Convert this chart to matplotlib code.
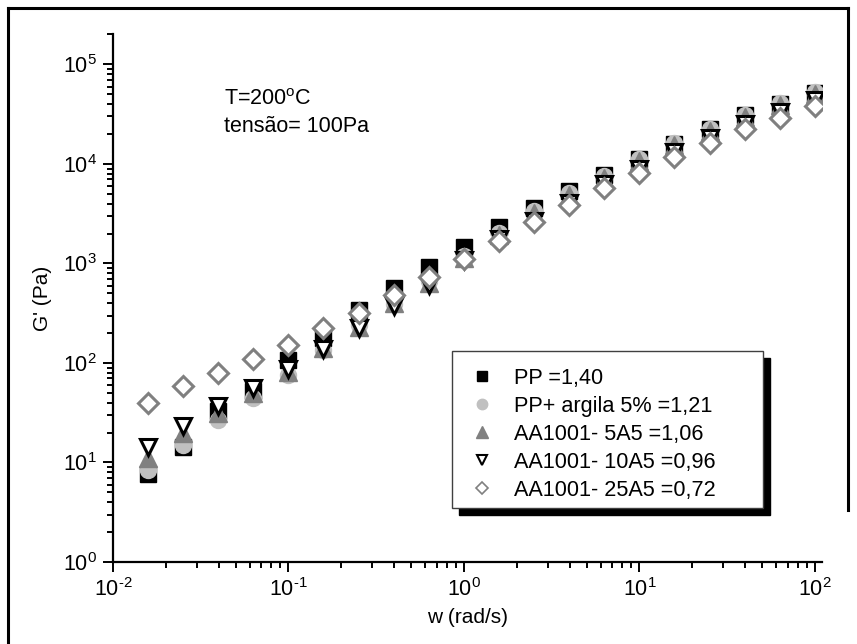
import numpy as np
import matplotlib
matplotlib.use('Agg')
import matplotlib.pyplot as plt
from matplotlib.patches import Rectangle
from matplotlib.lines import Line2D
from matplotlib.ticker import LogLocator

plt.rcParams['font.family'] = ['Liberation Sans', 'DejaVu Sans']
plt.rcParams['mathtext.fontset'] = 'custom'
plt.rcParams['mathtext.rm'] = 'Liberation Sans'
plt.rcParams['mathtext.default'] = 'regular'

# frequency (rad/s)
w = [0.0158, 0.0251, 0.0398, 0.0631, 0.1, 0.158, 0.251, 0.398, 0.631, 1.0,
     1.58, 2.51, 3.98, 6.31, 10.0, 15.8, 25.1, 39.8, 63.1, 100.0]

# G' (Pa) for each sample
g_pp = [7.7, 14.4, 33, 52, 108, 178, 340, 565, 915, 1480,
        2300, 3600, 5300, 7700, 11200, 16000, 22500, 31000, 40500, 52000]
g_argila = [8.4, 15, 26.7, 44.6, 76, 135, 240, 390, 660, 1200,
            2040, 3380, 5100, 7600, 11200, 16300, 22700, 31000, 40900, 52800]
g_5a5 = [11, 20, 31.5, 50, 81, 141, 232, 400, 640, 1135,
         1950, 3200, 4900, 7300, 10600, 15500, 21500, 29500, 39000, 50000]
g_10a5 = [14.2, 23.4, 36.7, 55.6, 86.4, 138, 225, 374, 605, 1084,
          1750, 2680, 4050, 6220, 8970, 13200, 18300, 25000, 33400, 43500]
g_25a5 = [40, 58.7, 80, 109, 151, 223, 320, 482, 726, 1100,
          1700, 2630, 3870, 5700, 8180, 11800, 16400, 22300, 29300, 38300]

labels = ['PP =1,40', 'PP+ argila 5% =1,21', 'AA1001- 5A5 =1,06',
          'AA1001- 10A5 =0,96', 'AA1001- 25A5 =0,72']

W, H = 857, 644
def fig_xy(px, py):
    # pixel position (from top-left) -> figure fraction
    return px / W, 1 - py / H

fig = plt.figure(figsize=(8.57, 6.44), dpi=100)
ax = fig.add_axes([113/W, 1 - 562/H, (822 - 113)/W, (562 - 34)/H])

ax.plot(w, g_pp, ls='none', marker='s', ms=11, mfc='black', mec='black', zorder=3)
ax.plot(w, g_argila, ls='none', marker='o', ms=11.5, mfc='#c0c0c0', mec='#c0c0c0', zorder=3)
ax.plot(w, g_5a5, ls='none', marker='^', ms=13, mfc='#808080', mec='#808080', zorder=3)
ax.plot(w, g_10a5, ls='none', marker='v', ms=12, mfc='white', mec='black', mew=2.2, zorder=3)
ax.plot(w, g_25a5, ls='none', marker='D', ms=10, mfc='white', mec='#808080', mew=2.2, zorder=3)

ax.set_xscale('log')
ax.set_yscale('log')
ax.set_xlim(0.01, 10 ** 2.04)
ax.set_ylim(1, 10 ** 5.306)

ax.spines['top'].set_visible(False)
ax.spines['right'].set_visible(False)
ax.spines['left'].set_linewidth(1.6)
ax.spines['bottom'].set_linewidth(1.6)

ax.xaxis.set_minor_locator(LogLocator(base=10, subs=np.arange(2, 10), numticks=20))
ax.yaxis.set_minor_locator(LogLocator(base=10, subs=np.arange(2, 10), numticks=20))
hy = '\u2010'
ax.set_xticks([0.01, 0.1, 1, 10, 100])
ax.set_xticklabels(['$10^{%s2}$' % hy, '$10^{%s1}$' % hy, '$10^{0}$', '$10^{1}$', '$10^{2}$'])
ax.set_yticks([1, 10, 100, 1000, 1e4, 1e5])
ax.set_yticklabels(['$10^{0}$', '$10^{1}$', '$10^{2}$', '$10^{3}$', '$10^{4}$', '$10^{5}$'])
ax.tick_params(which='major', direction='out', length=7.5, width=1.4, labelsize=15.5, pad=4)
ax.tick_params(which='minor', direction='out', length=4, width=1.4)

ax.set_xlabel('w (rad/s)', fontsize=15, labelpad=5)
ax.set_ylabel("G' (Pa)", fontsize=15, labelpad=8)

fig.text(*fig_xy(224, 105), 'T=200$^{o}$C', fontsize=15.5, va='baseline')
fig.text(*fig_xy(224, 132), 'tensão= 100Pa', fontsize=15.5, va='baseline')

# legend box with black shadow
bx0, by0, bx1, by1 = 452, 351, 763, 508
sx, sy = fig_xy(bx0 + 7, by1 + 7)
fig.add_artist(Rectangle((sx, sy), (bx1 - bx0) / W, (by1 - by0) / H,
                         transform=fig.transFigure, facecolor='black',
                         edgecolor='black', zorder=4))
lx, ly = fig_xy(bx0, by1)
fig.add_artist(Rectangle((lx, ly), (bx1 - bx0) / W, (by1 - by0) / H,
                         transform=fig.transFigure, facecolor='white',
                         edgecolor='#404040', lw=1.0, zorder=4.5))

handles = [
    Line2D([], [], ls='none', marker='s', ms=7, mfc='black', mec='black'),
    Line2D([], [], ls='none', marker='o', ms=7.5, mfc='#c0c0c0', mec='#c0c0c0'),
    Line2D([], [], ls='none', marker='^', ms=8, mfc='#808080', mec='#808080'),
    Line2D([], [], ls='none', marker='v', ms=7, mfc='white', mec='black', mew=1.5),
    Line2D([], [], ls='none', marker='D', ms=6, mfc='white', mec='#808080', mew=1.2),
]
leg = fig.legend(handles, labels, loc='upper left', bbox_to_anchor=fig_xy(bx0 + 20, by0 + 17),
                 bbox_transform=fig.transFigure, frameon=False, fontsize=15.6,
                 handlelength=0.92, handletextpad=1.0, labelspacing=0.32,
                 borderpad=0.0, borderaxespad=0.0)
leg.set_zorder(5)

# outer frame lines
fig.add_artist(Line2D([8/W, 848/W], [1 - 8/H, 1 - 8/H], color='black', lw=2.2))
fig.add_artist(Line2D([8/W, 8/W], [1 - 8/H, 0], color='black', lw=2.2))
fig.add_artist(Line2D([848/W, 848/W], [1 - 8/H, 1 - 510/H], color='black', lw=2.2))

fig.savefig('out.png', dpi=100)
